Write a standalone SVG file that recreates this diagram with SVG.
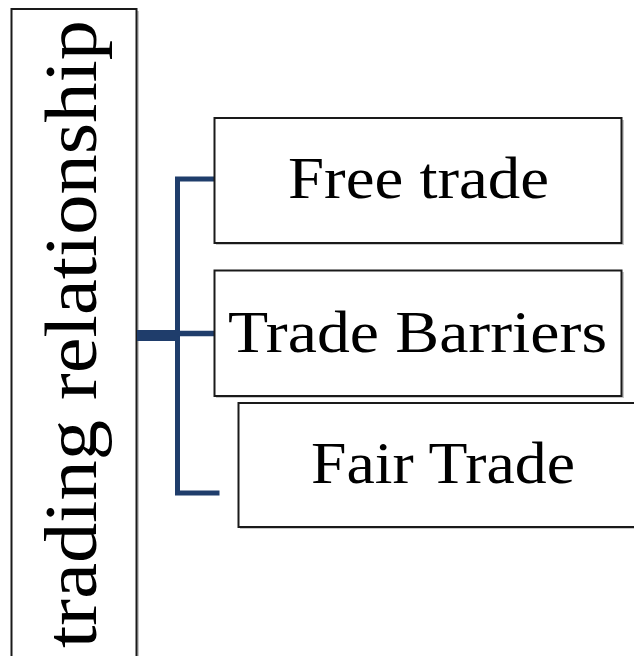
<svg xmlns="http://www.w3.org/2000/svg" width="634" height="656" viewBox="0 0 634 656">
<defs>
<style>
.box{fill:#ffffff;stroke:#1a1a1a;stroke-width:2}
.shadow{fill:#9a9a9a;opacity:0.55}
.lbl{font-family:"Liberation Serif","Times New Roman",serif;font-size:60px;fill:#000000}
.conn{stroke:#1f3d6b;fill:none;stroke-linecap:butt}
</style>
</defs>
<rect width="634" height="656" fill="#ffffff"/>
<g id="root">
<rect class="shadow" x="13" y="11" width="126" height="650"/>
<rect class="box" x="11.5" y="9" width="125" height="652"/>
<text class="lbl" style="font-size:75px" transform="translate(96,648) rotate(-90)" textLength="628" lengthAdjust="spacingAndGlyphs">trading relationship</text>
</g>
<g id="connectors">
<path class="conn" stroke-width="5" d="M219,179 H177.5 V493 H219.5"/>
<path class="conn" stroke-width="11" d="M137,335.5 H180"/>
<path class="conn" stroke-width="5.5" d="M177,333.5 H214"/>
</g>
<g id="n1">
<rect class="shadow" x="216" y="120" width="408" height="125"/>
<rect class="box" x="214.5" y="118" width="407" height="125"/>
<text class="lbl" x="288" y="198" textLength="261" lengthAdjust="spacingAndGlyphs">Free trade</text>
</g>
<g id="n2">
<rect class="shadow" x="216" y="272" width="408" height="126"/>
<rect class="box" x="214.5" y="270.5" width="407" height="125.5"/>
<text class="lbl" x="228" y="352" textLength="379" lengthAdjust="spacingAndGlyphs">Trade Barriers</text>
</g>
<g id="n3">
<rect class="shadow" x="240" y="405" width="400" height="124"/>
<rect class="box" x="238.5" y="403" width="400" height="124"/>
<text class="lbl" x="311" y="483" textLength="264" lengthAdjust="spacingAndGlyphs">Fair Trade</text>
</g>
</svg>
